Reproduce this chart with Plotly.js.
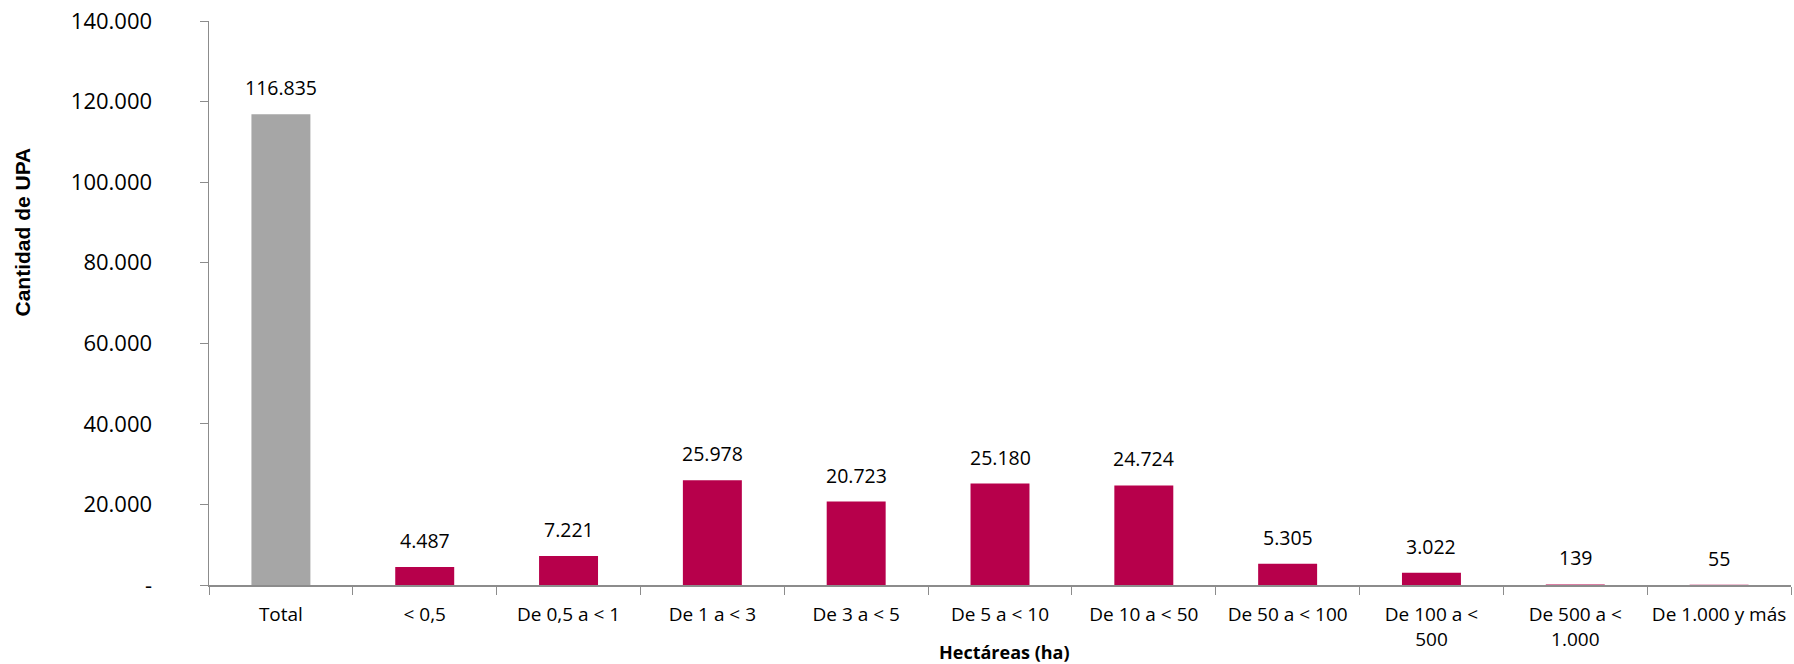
<!DOCTYPE html>
<html>
<head>
<meta charset="utf-8">
<script src="https://cdn.plot.ly/plotly-3.0.1.min.js"></script>
<style>html,body{margin:0;padding:0;background:#fff;}#chart{width:1794px;height:664px;}</style>
</head>
<body>
<div id="chart"></div>
<script>
const categories = ["Total", "< 0,5", "De 0,5 a < 1", "De 1 a < 3", "De 3 a < 5", "De 5 a < 10", "De 10 a < 50", "De 50 a < 100", "De 100 a <<br>500", "De 500 a <<br>1.000", "De 1.000 y más"];
const values = [116835, 4487, 7221, 25978, 20723, 25180, 24724, 5305, 3022, 139, 55];
const barColors = ["#A6A6A6", "#B7004B", "#B7004B", "#B7004B", "#B7004B", "#B7004B", "#B7004B", "#B7004B", "#B7004B", "#B7004B", "#B7004B"];
const yTickVals = [0, 20000, 40000, 60000, 80000, 100000, 120000, 140000];
const yTickText = ["-", "20.000", "40.000", "60.000", "80.000", "100.000", "120.000", "140.000"];

function fmt(v) {
  return String(v).replace(/\B(?=(\d{3})+(?!\d))/g, ".");
}

const FONT = "Open Sans, Noto Sans, sans-serif";

const trace = {
  type: "bar",
  x: categories,
  y: values,
  marker: {color: barColors},
  width: 0.41,
  hoverinfo: "x+y"
};

const annotations = categories.map((c, i) => ({
  x: c, y: values[i], xref: "x", yref: "y",
  text: fmt(values[i]), showarrow: false,
  yanchor: "bottom", yshift: 11,
  font: {family: FONT, size: 19.5, color: "#000"}
}));
annotations.push({
  xref: "paper", yref: "paper", x: 0.503, y: 0, yanchor: "middle", yshift: -67,
  text: "<b>Hectáreas (ha)</b>", showarrow: false,
  font: {family: FONT, size: 18, color: "#000"}
});
annotations.push({
  xref: "paper", yref: "paper", x: 0, xanchor: "center", xshift: -187, y: 0.625, yanchor: "middle",
  text: "<b>Cantidad de UPA</b>", textangle: -90, showarrow: false,
  font: {family: "Liberation Sans, Arial, sans-serif", size: 21, color: "#000"}
});

const layout = {
  width: 1794, height: 664,
  margin: {l: 209, r: 3, t: 21, b: 79},
  paper_bgcolor: "#fff", plot_bgcolor: "#fff",
  showlegend: false,
  xaxis: {
    type: "category",
    showline: true, linecolor: "#8C8C8C", linewidth: 1.5,
    ticks: "outside", tickson: "boundaries", ticklen: 8, tickcolor: "#8C8C8C",
    ticklabelstandoff: 12,
    tickfont: {family: FONT, size: 19, color: "#000"},
    showgrid: false, zeroline: false, automargin: false
  },
  yaxis: {
    range: [0, 140000],
    tickvals: yTickVals, ticktext: yTickText,
    showline: true, linecolor: "#8C8C8C", linewidth: 1.5,
    ticks: "outside", ticklen: 8, tickcolor: "#8C8C8C",
    ticklabelstandoff: 43,
    tickfont: {family: FONT, size: 22, color: "#000"},
    showgrid: false, zeroline: false, automargin: false
  },
  annotations: annotations
};

Plotly.newPlot("chart", [trace], layout, {displayModeBar: false, staticPlot: true});
</script>
</body>
</html>
